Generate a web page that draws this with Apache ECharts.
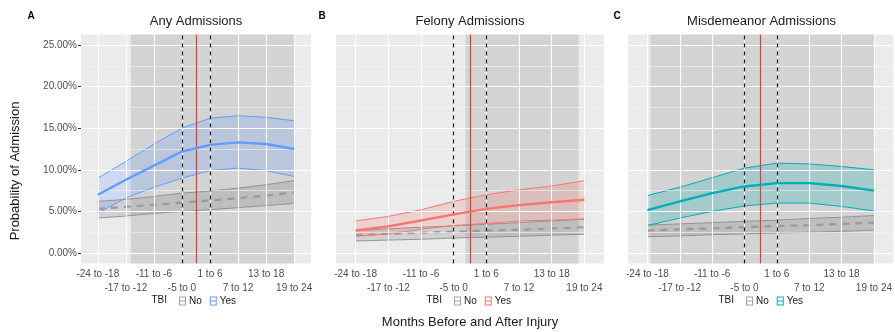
<!DOCTYPE html>
<html>
<head>
<meta charset="utf-8">
<script src="https://cdn.jsdelivr.net/npm/echarts@6/dist/echarts.min.js"></script>
<style>
  html, body { margin: 0; padding: 0; background: #fff; }
  #main { width: 895px; height: 332px; }
</style>
</head>
<body>
<div id="main"></div>
<script>
// categories (6-month windows around injury)
const months = ['-24 to -18', '-17 to -12', '-11 to -6', '-5 to 0', '1 to 6', '7 to 12', '13 to 18', '19 to 24'];
const yTicks = [0, 5, 10, 15, 20, 25];
const yMinor = [2.5, 7.5, 12.5, 17.5, 22.5];

// Any admissions (%)
const anyYesLow  = [4.8, 6.6, 7.9, 9.0, 9.9, 10.2, 9.9, 9.2];
const anyYesMean = [7.0, 8.8, 10.5, 12.2, 13.0, 13.3, 13.1, 12.5];
const anyYesHigh = [9.0, 11.0, 13.1, 15.0, 16.2, 16.5, 16.3, 15.9];
const anyNoLow   = [4.2, 4.45, 4.75, 5.0, 5.2, 5.45, 5.7, 5.95];
const anyNoMean  = [5.3, 5.55, 5.8, 6.05, 6.3, 6.6, 6.9, 7.3];
const anyNoHigh  = [6.2, 6.45, 6.8, 7.2, 7.45, 7.8, 8.2, 8.7];

// Felony admissions (%)
const felYesLow  = [2.0, 2.3, 2.85, 3.3, 3.55, 3.85, 3.95, 4.1];
const felYesMean = [2.7, 3.2, 3.9, 4.65, 5.3, 5.75, 6.1, 6.4];
const felYesHigh = [3.85, 4.4, 5.2, 6.2, 7.0, 7.6, 8.05, 8.7];
const felNoLow   = [1.45, 1.55, 1.65, 1.8, 1.9, 2.0, 2.15, 2.25];
const felNoMean  = [2.15, 2.3, 2.45, 2.55, 2.7, 2.8, 2.95, 3.1];
const felNoHigh  = [2.7, 2.9, 3.1, 3.25, 3.45, 3.65, 3.85, 4.05];

// Misdemeanor admissions (%)
const misYesLow  = [3.3, 4.2, 5.0, 5.65, 6.0, 6.0, 5.6, 5.05];
const misYesMean = [5.15, 6.2, 7.2, 8.0, 8.4, 8.4, 8.05, 7.5];
const misYesHigh = [6.9, 7.9, 9.05, 10.2, 10.8, 10.7, 10.4, 10.0];
const misNoLow   = [1.95, 2.05, 2.2, 2.3, 2.4, 2.5, 2.6, 2.75];
const misNoMean  = [2.7, 2.85, 2.95, 3.1, 3.25, 3.35, 3.5, 3.65];
const misNoHigh  = [3.35, 3.5, 3.65, 3.8, 3.95, 4.15, 4.3, 4.5];

// shaded windows (in category units, 1 = first window)
const shadeAny = [2.18, 8];
const shadeFel = [4.36, 7.82];
const shadeMis = [1.09, 8];

const FONT = '"Liberation Sans", Arial, sans-serif';
const xIdx = months.map((m, i) => i + 1);
const xOdd = xIdx.filter(v => v % 2 === 1);
const xEven = xIdx.filter(v => v % 2 === 0);

const panels = [
  { tag: 'A', title: 'Any Admissions', left: 81, width: 230, color: '#619CFF', fill: 'rgba(97,156,255,0.22)',
    yes: [anyYesLow, anyYesMean, anyYesHigh], no: [anyNoLow, anyNoMean, anyNoHigh], shade: shadeAny, legendLeft: 174 },
  { tag: 'B', title: 'Felony Admissions', left: 336, width: 268, color: '#F8766D', fill: 'rgba(248,118,109,0.22)',
    yes: [felYesLow, felYesMean, felYesHigh], no: [felNoLow, felNoMean, felNoHigh], shade: shadeFel, legendLeft: 449 },
  { tag: 'C', title: 'Misdemeanor Admissions', left: 628, width: 267, color: '#00AFB5', fill: 'rgba(0,175,181,0.22)',
    yes: [misYesLow, misYesMean, misYesHigh], no: [misNoLow, misNoMean, misNoHigh], shade: shadeMis, legendLeft: 741 }
];

const TOP = 34.6, HEIGHT = 228.8;
const pairs = arr => arr.map((v, i) => [i + 1, v]);

// ribbon polygon between lo and hi, through the axis scales
function ribbon(lo, hi, fill) {
  return (params, api) => {
    const top = hi.map((v, k) => api.coord([k + 1, v]));
    const bottom = lo.map((v, k) => api.coord([k + 1, v])).reverse();
    return { type: 'polygon', shape: { points: top.concat(bottom) }, style: { fill: fill, stroke: null } };
  };
}

const grid = [], xAxis = [], yAxis = [], series = [], legend = [], graphic = [];
const labelStyle = { fontSize: 10, color: '#4D4D4D', fontFamily: FONT, hideOverlap: false,
                     showMinLabel: true, showMaxLabel: true, formatter: v => months[Math.round(v) - 1] };

panels.forEach((p, i) => {
  const cx = p.left + p.width / 2;
  const xi = 2 * i;
  grid.push({ left: p.left, top: TOP, width: p.width, height: HEIGHT, show: true,
              backgroundColor: '#EBEBEB', borderWidth: 0 });
  // main x axis: all ticks, labels of odd windows on first row
  xAxis.push({
    type: 'value', gridIndex: i, min: 0.4, max: 8.6, position: 'bottom',
    axisLine: { show: false },
    axisTick: { customValues: xIdx, length: 3, lineStyle: { color: '#333', width: 1 } },
    axisLabel: Object.assign({ customValues: xOdd, margin: 6 }, labelStyle),
    splitLine: { show: false }
  });
  // second row of labels (even windows)
  xAxis.push({
    type: 'value', gridIndex: i, min: 0.4, max: 8.6, position: 'bottom', offset: 0,
    axisLine: { show: false }, axisTick: { show: false },
    axisLabel: Object.assign({ customValues: xEven, margin: 20 }, labelStyle),
    splitLine: { show: false }
  });
  yAxis.push({
    type: 'value', gridIndex: i, min: -1.25, max: 26.25,
    axisLine: { show: false },
    axisTick: { show: i === 0, customValues: yTicks, length: 3, lineStyle: { color: '#333' } },
    axisLabel: { show: i === 0, customValues: yTicks, fontSize: 10, color: '#4D4D4D', fontFamily: FONT, margin: 4,
                 formatter: v => v.toFixed(2) + '%' },
    splitLine: { show: false }
  });

  const common = { xAxisIndex: xi, yAxisIndex: i, type: 'line', symbol: 'none', silent: true, animation: false };

  // grid lines
  series.push(Object.assign({}, common, {
    name: 'grid' + i, data: [], z: 1,
    markLine: {
      silent: true, symbol: ['none', 'none'], label: { show: false }, animation: false,
      data: [].concat(
        yMinor.map(v => ({ yAxis: v, lineStyle: { color: '#F5F5F5', width: 0.6, type: 'solid' } })),
        yTicks.map(v => ({ yAxis: v, lineStyle: { color: '#FFFFFF', width: 1.1, type: 'solid' } })),
        xIdx.map(v => ({ xAxis: v, lineStyle: { color: '#FFFFFF', width: 1.1, type: 'solid' } }))
      )
    }
  }));
  // shaded window
  series.push(Object.assign({}, common, {
    name: 'shade' + i, data: [], z: 2,
    markArea: { silent: true, animation: false, itemStyle: { color: 'rgba(0,0,0,0.1)' },
                data: [[{ xAxis: p.shade[0] }, { xAxis: p.shade[1] }]] }
  }));

  // ribbons
  series.push({ type: 'custom', xAxisIndex: xi, yAxisIndex: i, silent: true, z: 3, animation: false,
    data: [[1, p.no[0][0]]], renderItem: ribbon(p.no[0], p.no[2], 'rgba(120,120,120,0.22)') });
  series.push({ type: 'custom', xAxisIndex: xi, yAxisIndex: i, silent: true, z: 3, animation: false,
    data: [[1, p.yes[0][0]]], renderItem: ribbon(p.yes[0], p.yes[2], p.fill) });

  // No (gray) bounds + dashed mean
  const grayLine = { color: '#8C8C8C', width: 0.9 };
  series.push(Object.assign({}, common, { name: 'No', z: 4, data: pairs(p.no[0]), lineStyle: grayLine, itemStyle: { color: '#999' } }));
  series.push(Object.assign({}, common, { name: 'No', z: 4, data: pairs(p.no[2]), lineStyle: grayLine, itemStyle: { color: '#999' } }));
  series.push(Object.assign({}, common, { name: 'No', z: 4, data: pairs(p.no[1]), itemStyle: { color: '#999' },
    lineStyle: { color: '#9A9A9A', width: 2.2, type: [7, 6] } }));

  // Yes (coloured) bounds + mean
  const colLine = { color: p.color, width: 1 };
  series.push(Object.assign({}, common, { name: 'Yes', z: 4, data: pairs(p.yes[0]), lineStyle: colLine, itemStyle: { color: p.color } }));
  series.push(Object.assign({}, common, { name: 'Yes', z: 4, data: pairs(p.yes[2]), lineStyle: colLine, itemStyle: { color: p.color } }));
  series.push(Object.assign({}, common, { name: 'Yes', z: 5, data: pairs(p.yes[1]), itemStyle: { color: p.color },
    lineStyle: { color: p.color, width: 2.4 } }));

  // reference lines: window bounds and injury
  series.push(Object.assign({}, common, {
    name: 'ref' + i, data: [], z: 6,
    markLine: {
      silent: true, symbol: ['none', 'none'], label: { show: false }, animation: false,
      data: [
        { xAxis: 4, lineStyle: { color: '#1a1a1a', width: 1.2, type: [4, 4] } },
        { xAxis: 5, lineStyle: { color: '#1a1a1a', width: 1.2, type: [4, 4] } },
        { xAxis: 4.5, lineStyle: { color: '#E23B33', width: 1.2, type: 'solid' } }
      ]
    }
  }));

  legend.push({
    left: p.legendLeft, top: 291, itemWidth: 7, itemHeight: 9, itemGap: 8, selectedMode: false,
    icon: 'path://M0,0H7V9H0Z M1,1V4H6V1Z M1,5V8H6V5Z',
    textStyle: { fontSize: 10, color: '#1a1a1a', fontFamily: FONT, padding: [0, 0, 0, -2] },
    data: [{ name: 'No', itemStyle: { color: '#A6A6A6' } }, { name: 'Yes', itemStyle: { color: p.color } }]
  });

  graphic.push({ type: 'text', x: p.legendLeft - 7, y: 300,
    style: { text: 'TBI', font: '10px ' + FONT, fill: '#1a1a1a', align: 'right', verticalAlign: 'middle' } });
  graphic.push({ type: 'text', x: cx, y: 21,
    style: { text: p.title, font: '13px ' + FONT, fill: '#1a1a1a', align: 'center', verticalAlign: 'middle' } });
});

graphic.push(
  { type: 'text', x: 31, y: 16, style: { text: 'A', font: 'bold 10px ' + FONT, fill: '#000', align: 'center', verticalAlign: 'middle' } },
  { type: 'text', x: 322, y: 16, style: { text: 'B', font: 'bold 10px ' + FONT, fill: '#000', align: 'center', verticalAlign: 'middle' } },
  { type: 'text', x: 617, y: 16, style: { text: 'C', font: 'bold 10px ' + FONT, fill: '#000', align: 'center', verticalAlign: 'middle' } },
  { type: 'text', x: 15, y: 171, rotation: Math.PI / 2,
    style: { text: 'Probability of Admission', font: '13px ' + FONT, fill: '#1a1a1a', align: 'center', verticalAlign: 'middle' } },
  { type: 'text', x: 470, y: 322,
    style: { text: 'Months Before and After Injury', font: '13px ' + FONT, fill: '#1a1a1a', align: 'center', verticalAlign: 'middle' } }
);

const chart = echarts.init(document.getElementById('main'), null, { renderer: 'canvas' });
chart.setOption({
  animation: false,
  backgroundColor: '#fff',
  grid, xAxis, yAxis, series, legend, graphic
});
</script>
</body>
</html>
